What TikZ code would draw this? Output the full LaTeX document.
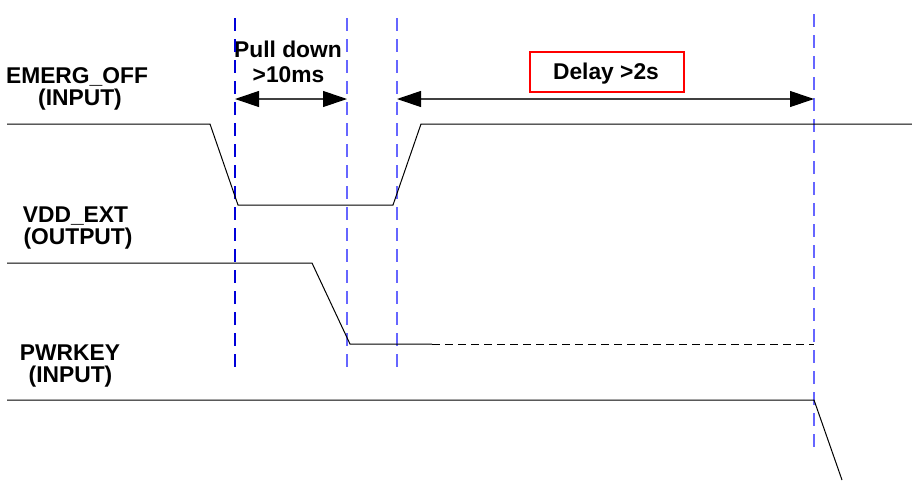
\documentclass[tikz,border=0pt]{standalone}
\usepackage{fontspec}
\setmainfont{Liberation Sans}
\usetikzlibrary{arrows.meta}
\begin{document}
\begin{tikzpicture}[x=1pt,y=-1pt,
  lbl/.style={font=\bfseries\fontsize{22.8}{22.8}\selectfont, inner sep=0pt, anchor=base},
  sig/.style={line width=1pt, black},
  marker/.style={line width=1.3pt, color=blue!60!white, dash pattern=on 13pt off 8pt},
  markerdark/.style={line width=1.2pt, color=blue!85!black, dash pattern=on 13pt off 8pt},
  dim/.style={line width=1.1pt, black!75, {Triangle[length=24pt,width=16pt,black]}-{Triangle[length=24pt,width=16pt,black]}},
  redbox/.style={draw=red, line width=2pt, minimum width=154pt, minimum height=40pt, inner sep=0pt}
]
\useasboundingbox (0,0) rectangle (912,480);
% labels
\node[lbl] (l1a) at (77,83) {EMERG\_OFF};
\node[lbl] (l1b) at (80,105) {(INPUT)};
\node[lbl] (l2a) at (75.5,222) {VDD\_EXT};
\node[lbl] (l2b) at (78,244) {(OUTPUT)};
\node[lbl] (l3a) at (70,360) {PWRKEY};
\node[lbl] (l3b) at (70.5,382) {(INPUT)};
\node[lbl] (pd1) at (288,57) {Pull down};
\node[lbl] (pd2) at (288.5,82) {>10ms};
\node[redbox] (dbox) at (607,72) {};
\node[lbl] (dly) at (606,79) {Delay >2s};
% marker lines
\coordinate (m1t) at (235,18); \coordinate (m1b) at (235,367);
\coordinate (m2t) at (347,18); \coordinate (m2b) at (347,367);
\coordinate (m3t) at (397,18); \coordinate (m3b) at (397,367);
\coordinate (m4t) at (814,14); \coordinate (m4b) at (814,453);
\draw[markerdark] (m1t) -- (m1b);
\draw[marker] (m2t) -- (m2b);
\draw[marker] (m3t) -- (m3b);
\draw[marker] (m4t) -- (m4b);
% dimension arrows
\coordinate (a1l) at (235,99); \coordinate (a1r) at (347,99);
\coordinate (a2l) at (397,99); \coordinate (a2r) at (814,99);
\draw[dim] (a1l) -- (a1r);
\draw[dim] (a2l) -- (a2r);
% EMERG_OFF signal
\coordinate (e0) at (7,124); \coordinate (e1) at (210,124);
\coordinate (e2) at (238,205); \coordinate (e3) at (393,205);
\coordinate (e4) at (421,124); \coordinate (e5) at (912,124);
\draw[sig] (e0) -- (e1) -- (e2) -- (e3) -- (e4) -- (e5);
% VDD_EXT signal
\coordinate (v0) at (7,263); \coordinate (v1) at (312,263);
\coordinate (v2) at (350,344); \coordinate (v3) at (432,344);
\coordinate (v4) at (814,344);
\draw[sig] (v0) -- (v1) -- (v2) -- (v3);
\draw[sig, dash pattern=on 8pt off 5pt] (v3) -- (v4);
% PWRKEY signal
\coordinate (p0) at (7,400); \coordinate (p1) at (814,400);
\coordinate (p2) at (842,480);
\draw[sig] (p0) -- (p1) -- (p2);
\end{tikzpicture}
\end{document}
